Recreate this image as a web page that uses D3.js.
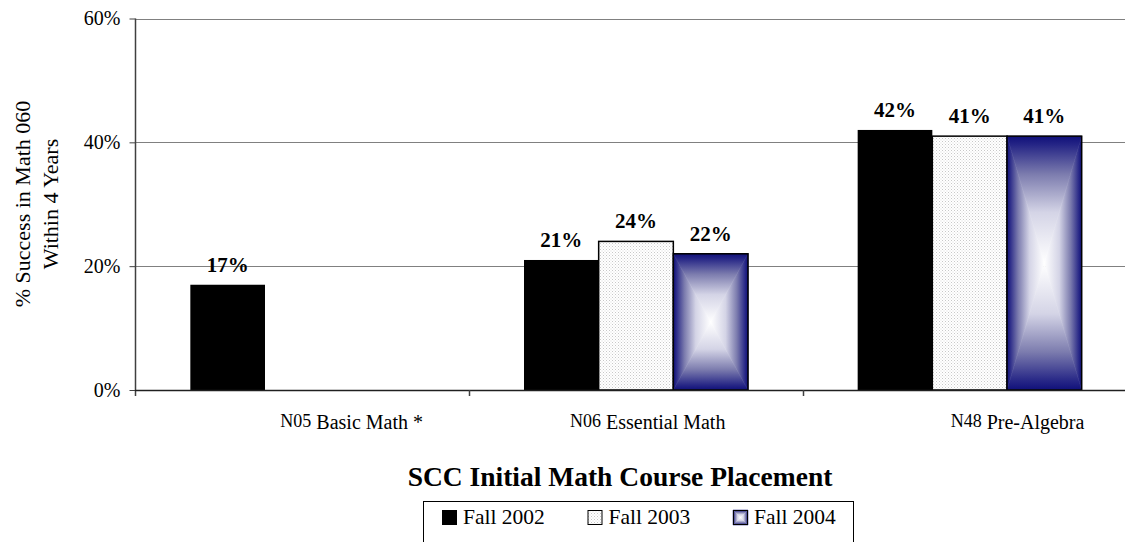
<!DOCTYPE html>
<html>
<head>
<meta charset="utf-8">
<script src="https://cdn.jsdelivr.net/npm/d3@7"></script>
<style>
  html, body { margin: 0; padding: 0; background: #fff; }
  svg { display: block; }
</style>
</head>
<body>
<svg id="chart" width="1125" height="542"></svg>
<script>
// ---- data ----
const categoryCodes = ["N05", "N06", "N48"];
const categoryNames = ["Basic Math *", "Essential Math", "Pre-Algebra"];
const seriesNames = ["Fall 2002", "Fall 2003", "Fall 2004"];
const fall2002 = [0.17, 0.21, 0.42];
const fall2003 = [null, 0.24, 0.41];
const fall2004 = [null, 0.22, 0.41];
const yTicks = [0, 0.2, 0.4, 0.6];
const yTitleLines = ["% Success in Math 060", "Within 4 Years"];
const chartTitle = "SCC Initial Math Course Placement";

const seriesValues = [fall2002, fall2003, fall2004];

// ---- layout ----
const W = 1125, H = 542;
const plotLeft = 135, plotTop = 18.5, plotBottom = 390;
const svg = d3.select("#chart");
const serif = "'Liberation Serif', 'Times New Roman', serif";

const y = d3.scaleLinear().domain([0, 0.6]).range([plotBottom, plotTop]);
const x0 = d3.scaleBand().domain(categoryNames).range([135.5, 1136.5]).paddingInner(0).paddingOuter(0);
const groupW = 224;
const x1 = d3.scaleBand().domain(seriesNames).range([0, groupW]).padding(0);

// ---- defs: patterns / gradients ----
const defs = svg.append("defs");
const dots = defs.append("pattern").attr("id", "dots").attr("patternUnits", "userSpaceOnUse")
  .attr("width", 3).attr("height", 3);
dots.append("rect").attr("width", 3).attr("height", 3).attr("fill", "#ffffff");
dots.append("rect").attr("x", 0).attr("y", 0).attr("width", 1).attr("height", 1).attr("fill", "#c8c8c8");
dots.append("rect").attr("x", 1.5).attr("y", 1.5).attr("width", 1).attr("height", 1).attr("fill", "#d8d8d8");

const stops = [[0, "#10107a"], [0.07, "#262686"], [0.3, "#7c7cae"], [0.6, "#d4d4e6"], [1, "#ffffff"]];
function grad(id, x1v, y1v, x2v, y2v) {
  const g = defs.append("linearGradient").attr("id", id)
    .attr("x1", x1v).attr("y1", y1v).attr("x2", x2v).attr("y2", y2v);
  stops.forEach(s => g.append("stop").attr("offset", s[0]).attr("stop-color", s[1]));
}
grad("gTop", 0, 0, 0, 1);
grad("gBot", 0, 1, 0, 0);
grad("gLeft", 0, 0, 1, 0);
grad("gRight", 1, 0, 0, 0);

// ---- gridlines ----
svg.append("g").selectAll("line").data(yTicks.filter(d => d > 0)).join("line")
  .attr("x1", plotLeft).attr("x2", W)
  .attr("y1", d => Math.round(y(d)) + 0.5).attr("y2", d => Math.round(y(d)) + 0.5)
  .attr("stroke", "#808080").attr("stroke-width", 1);

// ---- bars ----
const barData = [];
categoryNames.forEach((c, ci) => {
  seriesNames.forEach((s, si) => {
    const v = seriesValues[si][ci];
    if (v != null) barData.push({ c, ci, s, si, v });
  });
});
const bw = x1.bandwidth();
const gx = d => x0(d.c) + (x0.bandwidth() - groupW) / 2 + x1(d.s);

const bars = svg.append("g");
barData.forEach(d => {
  const bx = gx(d), by = y(d.v), bh = plotBottom - y(d.v);
  if (d.si === 0) {
    bars.append("rect").attr("x", bx).attr("y", by).attr("width", bw).attr("height", bh).attr("fill", "#000");
  } else if (d.si === 1) {
    bars.append("rect").attr("x", bx).attr("y", by).attr("width", bw).attr("height", bh)
      .attr("fill", "url(#dots)").attr("stroke", "#000").attr("stroke-width", 1.5);
  } else {
    const cx = bx + bw / 2, cy = by + bh / 2;
    const L = bx, R = bx + bw, T = by, B = by + bh;
    const polys = [
      [[L, T], [R, T], [cx, cy], "gTop"],
      [[L, B], [R, B], [cx, cy], "gBot"],
      [[L, T], [L, B], [cx, cy], "gLeft"],
      [[R, T], [R, B], [cx, cy], "gRight"]
    ];
    polys.forEach(p => {
      bars.append("polygon").attr("points", p.slice(0, 3).map(q => q.join(",")).join(" "))
        .attr("fill", `url(#${p[3]})`).attr("stroke", `url(#${p[3]})`).attr("stroke-width", 0.6);
    });
    bars.append("rect").attr("x", bx).attr("y", by).attr("width", bw).attr("height", bh)
      .attr("fill", "none").attr("stroke", "#000").attr("stroke-width", 1.5);
  }
});

// value labels
svg.append("g").selectAll("text").data(barData).join("text")
  .attr("x", d => gx(d) + bw / 2).attr("y", d => y(d.v) - 13)
  .attr("text-anchor", "middle").attr("font-family", serif).attr("font-weight", "bold")
  .attr("font-size", 21).attr("fill", "#000")
  .text(d => Math.round(d.v * 100) + "%");

// ---- axes ----
const yAxis = d3.axisLeft(y).tickValues(yTicks).tickFormat(d3.format(".0%")).tickSize(6).tickPadding(9);
const ya = svg.append("g").attr("transform", `translate(${plotLeft + 0.5},0)`).call(yAxis);
ya.select(".domain").remove();
ya.selectAll(".tick line").attr("stroke", "#404040");
ya.selectAll(".tick text").attr("font-family", serif).attr("font-size", 20).attr("fill", "#000");
svg.append("line").attr("x1", plotLeft + 0.5).attr("x2", plotLeft + 0.5)
  .attr("y1", plotTop).attr("y2", plotBottom + 6).attr("stroke", "#404040").attr("stroke-width", 1.5);
svg.append("line").attr("x1", plotLeft).attr("x2", W)
  .attr("y1", plotBottom + 0.5).attr("y2", plotBottom + 0.5).attr("stroke", "#202020").attr("stroke-width", 1.5);
// category boundary ticks
svg.append("g").selectAll("line").data(categoryNames.slice(1)).join("line")
  .attr("x1", d => Math.round(x0(d)) + 0.5).attr("x2", d => Math.round(x0(d)) + 0.5)
  .attr("y1", plotBottom).attr("y2", plotBottom + 6).attr("stroke", "#404040").attr("stroke-width", 1.5);

// category labels
const labelShift = [-22, -66, -19];
const catG = svg.append("g");
categoryNames.forEach((c, i) => {
  const t = catG.append("text")
    .attr("x", x0(c) + x0.bandwidth() / 2 + labelShift[i]).attr("y", 427)
    .attr("font-family", serif).attr("fill", "#000");
  t.append("tspan").attr("font-size", 18).text(categoryCodes[i]);
  t.append("tspan").attr("font-size", 20).attr("dx", 5).attr("dy", 2).text(c);
});

// y title
const yt = svg.append("text").attr("transform", "translate(0,204) rotate(-90)")
  .attr("text-anchor", "middle").attr("font-family", serif).attr("font-size", 22).attr("fill", "#000");
yTitleLines.forEach((l, i) => yt.append("tspan").attr("x", 0).attr("y", 30 + i * 28).text(l));

// chart title
svg.append("text").attr("x", 620).attr("y", 486).attr("text-anchor", "middle")
  .attr("font-family", serif).attr("font-weight", "bold").attr("font-size", 27.5).attr("fill", "#000")
  .text(chartTitle);

// ---- legend ----
const leg = svg.append("g");
leg.append("rect").attr("x", 423.5).attr("y", 501.5).attr("width", 430).attr("height", 60)
  .attr("fill", "#fff").attr("stroke", "#000").attr("stroke-width", 1);
const legStep = 145.5;
seriesNames.forEach((s, i) => {
  const lx = 442 + i * legStep;
  if (i === 0) {
    leg.append("rect").attr("x", lx).attr("y", 510).attr("width", 15).attr("height", 15).attr("fill", "#000");
  } else if (i === 1) {
    leg.append("rect").attr("x", lx + 0.5).attr("y", 510.5).attr("width", 14).attr("height", 14)
      .attr("fill", "url(#dots)").attr("stroke", "#000").attr("stroke-width", 1);
  } else {
    const L = lx, R = lx + 15, T = 510, B = 525, cx = lx + 7.5, cy = 517.5;
    [[[L, T], [R, T], "gTop"], [[L, B], [R, B], "gBot"], [[L, T], [L, B], "gLeft"], [[R, T], [R, B], "gRight"]]
      .forEach(p => leg.append("polygon").attr("points", [p[0], p[1], [cx, cy]].map(q => q.join(",")).join(" "))
        .attr("fill", `url(#${p[2]})`).attr("stroke", `url(#${p[2]})`).attr("stroke-width", 0.5));
    leg.append("rect").attr("x", lx + 0.5).attr("y", 510.5).attr("width", 14).attr("height", 14)
      .attr("fill", "none").attr("stroke", "#000").attr("stroke-width", 1);
  }
  leg.append("text").attr("x", lx + 21).attr("y", 524).attr("font-family", serif)
    .attr("font-size", 21.5).attr("fill", "#000").text(s);
});
</script>
</body>
</html>
